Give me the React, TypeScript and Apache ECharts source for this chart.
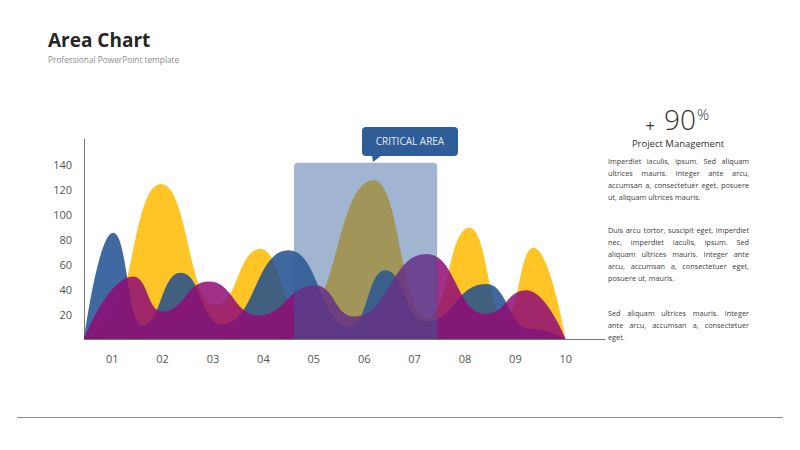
import React, { useEffect, useRef } from 'react';
import * as echarts from 'echarts';

// Category tick labels
const xLabels = ['01', '02', '03', '04', '05', '06', '07', '08', '09', '10'];

// Curves: [position along the 01..10 scale, value]
const yellowPoints: [number, number][] = [
  [0.444, 0], [0.85, 15], [1.97, 124], [3.05, 27], [3.94, 72], [4.75, 20],
  [6.19, 127], [7.25, 17], [8.09, 89], [8.8, 18], [9.36, 73], [10.0, 0],
];
const bluePoints: [number, number][] = [
  [0.444, 0], [1.02, 85], [1.59, 11], [2.36, 53], [3.18, 12], [4.5, 71],
  [5.72, 10], [6.42, 55], [7.2, 14], [8.42, 44], [9.3, 8], [10.0, 0],
];
const magentaPoints: [number, number][] = [
  [0.444, 0], [1.42, 50], [1.99, 22], [2.92, 46], [3.9, 19], [5.03, 43],
  [5.8, 18], [7.24, 68], [8.42, 20], [9.22, 39], [10.0, 0],
];

// Highlighted region: [from, to, top value]
const criticalArea: [number, number, number][] = [[4.61, 7.45, 141]];

const paragraph1 = [
  'Imperdiet iaculis, ipsum. Sed aliquam',
  'ultrices mauris. Integer ante arcu,',
  'accumsan a, consectetuer eget, posuere',
  'ut, aliquam ultrices mauris.',
];
const paragraph2 = [
  'Duis arcu tortor, suscipit eget, imperdiet',
  'nec, imperdiet iaculis, ipsum. Sed',
  'aliquam ultrices mauris. Integer ante',
  'arcu, accumsan a, consectetuer eget,',
  'posuere ut, mauris.',
];
const paragraph3 = [
  'Sed aliquam ultrices mauris. Integer',
  'ante arcu, accumsan a, consectetuer',
  'eget.',
];

const FONT = '"Open Sans", "Noto Sans", sans-serif';
const PARA_SIZE = 7.3;
const PARA_X = 608;
const PARA_W = 141;

let measureCtx: CanvasRenderingContext2D | null = null;
function measure(t: string): number {
  if (!measureCtx) {
    measureCtx = document.createElement('canvas').getContext('2d');
  }
  if (!measureCtx) return t.length * PARA_SIZE * 0.5;
  measureCtx.font = `${PARA_SIZE}px ${FONT}`;
  return measureCtx.measureText(t).width;
}

function textStyle(t: string) {
  return {
    text: t,
    fill: '#404040',
    fontSize: PARA_SIZE,
    fontFamily: FONT,
    verticalAlign: 'middle',
    textAlign: 'left',
  };
}

function paraTexts(lines: string[], y0: number) {
  const out: any[] = [];
  lines.forEach((line, i) => {
    const y = y0 + i * 12;
    const isLast = i === lines.length - 1;
    if (isLast) {
      out.push({ type: 'text', x: PARA_X, y, style: textStyle(line) });
      return;
    }
    const words = line.split(' ');
    const widths = words.map(measure);
    const total = widths.reduce((a, b) => a + b, 0);
    const gap = words.length > 1 ? (PARA_W - total) / (words.length - 1) : 0;
    let x = PARA_X;
    words.forEach((w, k) => {
      out.push({ type: 'text', x, y, style: textStyle(w) });
      x += widths[k] + gap;
    });
  });
  return out;
}

export default function App() {
  const ref = useRef<HTMLDivElement>(null);
  useEffect(() => {
    if (!ref.current) return;
    const chart = echarts.init(ref.current, null, { renderer: 'svg' });
    const areaSeries = (data: [number, number][], color: string, opacity: number) => ({
      type: 'line',
      xAxisIndex: 0,
      yAxisIndex: 0,
      data,
      smooth: 0.5,
      smoothMonotone: 'x',
      symbol: 'none',
      lineStyle: { width: 0 },
      areaStyle: { color, opacity },
      silent: true,
    });
    chart.setOption({
      animation: false,
      textStyle: { fontFamily: FONT },
      grid: [
        { left: 84, right: 195, top: 139, bottom: 111 },
        { left: 87, width: 504, top: 139, bottom: 111 },
      ],
      xAxis: [
        {
          type: 'value',
          gridIndex: 0,
          min: 0.444,
          max: 10.78,
          axisLine: { show: true, lineStyle: { color: '#777', width: 1 } },
          axisTick: { show: false },
          axisLabel: { show: false },
          splitLine: { show: false },
        },
        {
          type: 'category',
          gridIndex: 1,
          data: xLabels,
          boundaryGap: true,
          axisLine: { show: false },
          axisTick: { show: false },
          axisLabel: { color: '#555', fontSize: 11, margin: 14, fontFamily: FONT },
        },
      ],
      yAxis: [
        {
          type: 'value',
          gridIndex: 0,
          min: 0,
          max: 160,
          interval: 20,
          axisLine: { show: true, lineStyle: { color: '#777', width: 1 } },
          axisTick: { show: false },
          splitLine: { show: false },
          axisLabel: {
            color: '#555',
            fontSize: 11,
            margin: 12,
            fontFamily: FONT,
            formatter: (v: number) => (v === 0 || v === 160 ? '' : String(v)),
          },
        },
        { type: 'value', gridIndex: 1, show: false, min: 0, max: 160 },
      ],
      series: [
        areaSeries(yellowPoints, '#FFC425', 1),
        areaSeries(bluePoints, '#204f90', 0.85),
        areaSeries(magentaPoints, '#8f0c76', 0.85),
        {
          type: 'custom',
          xAxisIndex: 0,
          yAxisIndex: 0,
          silent: true,
          z: 5,
          data: criticalArea,
          encode: { x: [0, 1], y: 2 },
          renderItem: (params: any, api: any) => {
            const p0 = api.coord([api.value(0), api.value(2)]);
            const p1 = api.coord([api.value(1), 0]);
            return {
              type: 'rect',
              shape: { x: p0[0], y: p0[1], width: p1[0] - p0[0], height: p1[1] - p0[1], r: [4, 4, 0, 0] },
              style: { fill: 'rgba(53,94,153,0.46)' },
            };
          },
        },
      ],
      graphic: [
        { type: 'text', x: 48, y: 40, style: { text: 'Area Chart', fill: '#262626', fontSize: 19, fontWeight: 'bold', fontFamily: FONT, verticalAlign: 'middle' } },
        { type: 'text', x: 48, y: 59, style: { text: 'Professional PowerPoint template', fill: '#8c8c8c', fontSize: 8.3, fontFamily: FONT, verticalAlign: 'middle' } },
        // callout
        { type: 'rect', shape: { x: 362, y: 127, width: 96, height: 29, r: 4 }, style: { fill: '#2e5d98' }, z: 10 },
        { type: 'polygon', shape: { points: [[372, 155], [382, 155], [373, 162]] }, style: { fill: '#2e5d98' }, z: 10 },
        { type: 'text', x: 410, y: 141, z: 11, style: { text: 'CRITICAL AREA', fill: '#e4ebf4', fontSize: 10, fontFamily: FONT, textAlign: 'center', verticalAlign: 'middle' } },
        // right panel
        { type: 'text', x: 650, y: 126, style: { text: '+', fill: '#333', fontSize: 16, fontFamily: FONT, textAlign: 'center', verticalAlign: 'middle' } },
        { type: 'text', x: 664, y: 119, style: { text: '90', fill: '#333', fontSize: 28, fontWeight: 300, fontFamily: FONT, textAlign: 'left', verticalAlign: 'middle' } },
        { type: 'text', x: 697, y: 114, style: { text: '%', fill: '#333', fontSize: 15, fontWeight: 300, fontFamily: FONT, textAlign: 'left', verticalAlign: 'middle' } },
        { type: 'text', x: 678, y: 143, style: { text: 'Project Management', fill: '#333', fontSize: 9.5, fontFamily: FONT, textAlign: 'center', verticalAlign: 'middle' } },
        ...paraTexts(paragraph1, 161),
        ...paraTexts(paragraph2, 230),
        ...paraTexts(paragraph3, 313),
        { type: 'line', shape: { x1: 17, y1: 417.5, x2: 783, y2: 417.5 }, style: { stroke: '#8c8c8c', lineWidth: 1 } },
      ],
    });
    return () => chart.dispose();
  }, []);
  return <div ref={ref} style={{ position: 'fixed', left: 0, top: 0, width: 800, height: 450, background: '#fff' }} />;
}
